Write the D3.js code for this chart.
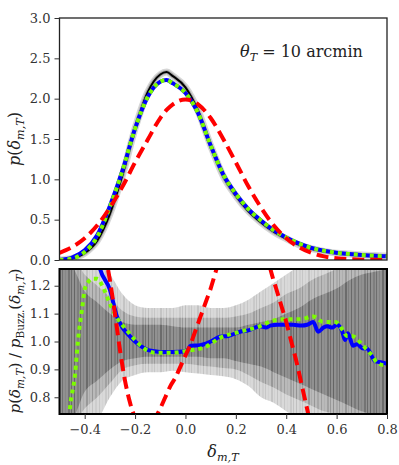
<!DOCTYPE html>
<html>
<head>
<meta charset="utf-8">
<script src="https://cdn.jsdelivr.net/npm/d3@7"></script>
<style>
body { margin: 0; background: #fff; }
svg text { font-family: "DejaVu Serif", "Liberation Serif", serif; fill: #222; }
</style>
</head>
<body>
<svg id="fig" width="399" height="465"></svg>
<script>
// ---- data ----
const topX = [-0.5, -0.45, -0.4, -0.35, -0.3, -0.25, -0.2, -0.15, -0.1, -0.075, -0.05, 0, 0.05, 0.1,
    0.15, 0.2, 0.25, 0.3, 0.35, 0.4, 0.45, 0.5, 0.55, 0.6, 0.65, 0.7, 0.75, 0.8];
const buzzardTop = [0.0, 0.02, 0.085, 0.24, 0.57, 1.05, 1.63, 2.08, 2.30, 2.33, 2.28, 2.14, 1.85, 1.42,
    1.04, 0.795, 0.605, 0.465, 0.35, 0.265, 0.19, 0.14, 0.107, 0.085, 0.073, 0.062, 0.055, 0.049];
const blueTop = [0.0, 0.03, 0.12, 0.31, 0.67, 1.11, 1.63, 2.02, 2.21, 2.23, 2.19, 2.07, 1.82, 1.42,
    1.06, 0.82, 0.63, 0.49, 0.37, 0.28, 0.205, 0.15, 0.115, 0.09, 0.075, 0.062, 0.052, 0.045];
const greenTop = [0.0, 0.016, 0.10, 0.29, 0.66, 1.11, 1.63, 2.02, 2.21, 2.23, 2.19, 2.07, 1.82, 1.42,
    1.06, 0.82, 0.63, 0.49, 0.37, 0.28, 0.205, 0.15, 0.115, 0.09, 0.075, 0.062, 0.052, 0.045];
const redTop = [0.088, 0.16, 0.27, 0.43, 0.65, 0.91, 1.21, 1.49, 1.76, 1.86, 1.93, 1.99, 1.93, 1.76,
    1.50, 1.21, 0.91, 0.65, 0.43, 0.27, 0.16, 0.088, 0.045, 0.022, 0.01, 0.004, 0.002, 0.001];

// spread of the Buzzard realisations in the ratio panel (outer, middle, inner envelopes)
const bandX = [-0.5, -0.45, -0.4, -0.35, -0.3, -0.25, -0.2, -0.15, -0.1, -0.05, 0, 0.05, 0.1, 0.15,
    0.2, 0.25, 0.3, 0.35, 0.4, 0.45, 0.5, 0.55, 0.6, 0.65, 0.7, 0.75, 0.8];
const outerLo = [0.70, 0.70, 0.70, 0.72, 0.80, 0.86, 0.88, 0.89, 0.89, 0.895, 0.89, 0.885, 0.88, 0.875,
    0.865, 0.84, 0.80, 0.78, 0.75, 0.72, 0.70, 0.70, 0.70, 0.70, 0.70, 0.70, 0.70];
const outerHi = [1.30, 1.30, 1.30, 1.28, 1.24, 1.17, 1.13, 1.12, 1.12, 1.12, 1.13, 1.13, 1.12, 1.12,
    1.13, 1.15, 1.18, 1.21, 1.24, 1.27, 1.30, 1.30, 1.30, 1.30, 1.30, 1.30, 1.30];
const midLo = [0.70, 0.70, 0.76, 0.80, 0.85, 0.90, 0.915, 0.92, 0.92, 0.92, 0.92, 0.915, 0.91, 0.905,
    0.90, 0.88, 0.855, 0.835, 0.81, 0.79, 0.77, 0.75, 0.74, 0.72, 0.70, 0.70, 0.70];
const midHi = [1.30, 1.30, 1.24, 1.20, 1.16, 1.11, 1.09, 1.085, 1.085, 1.085, 1.085, 1.085, 1.085, 1.085,
    1.09, 1.10, 1.12, 1.14, 1.17, 1.19, 1.22, 1.24, 1.26, 1.28, 1.30, 1.30, 1.30];
const innerLo = [0.70, 0.72, 0.82, 0.86, 0.90, 0.93, 0.94, 0.945, 0.945, 0.945, 0.945, 0.945, 0.94, 0.94,
    0.93, 0.92, 0.91, 0.89, 0.87, 0.85, 0.83, 0.81, 0.79, 0.77, 0.75, 0.74, 0.74];
const innerHi = [1.30, 1.27, 1.18, 1.14, 1.10, 1.07, 1.06, 1.06, 1.06, 1.055, 1.05, 1.05, 1.05, 1.05,
    1.05, 1.06, 1.07, 1.08, 1.10, 1.12, 1.15, 1.17, 1.19, 1.22, 1.24, 1.25, 1.26];

const blueRatioX = [-0.35, -0.339, -0.30, -0.272, -0.25, -0.232, -0.20, -0.18, -0.15, -0.129, -0.10, -0.05,
    0.0, 0.01, 0.02, 0.058, 0.10, 0.137, 0.17, 0.217, 0.25, 0.296, 0.32, 0.336, 0.367, 0.40, 0.427, 0.46,
    0.483, 0.507, 0.527, 0.548, 0.562, 0.582, 0.601, 0.621, 0.633, 0.645, 0.665, 0.681, 0.705, 0.72, 0.752,
    0.78, 0.80];
const blueRatio = [1.30, 1.26, 1.186, 1.09, 1.05, 1.03, 1.00, 0.985, 0.97, 0.966, 0.962, 0.962,
    0.965, 0.97, 0.985, 0.987, 1.00, 1.017, 1.02, 1.035, 1.04, 1.055, 1.05, 1.057, 1.06, 1.06, 1.06, 1.057,
    1.06, 1.07, 1.035, 1.05, 1.055, 1.05, 1.06, 1.04, 1.005, 1.03, 0.985, 0.99, 0.975, 0.975, 0.93,
    0.925, 0.92];

const greenRatioX = [-0.465, -0.458, -0.438, -0.427, -0.41, -0.399, -0.385, -0.37, -0.35, -0.33, -0.30,
    -0.268, -0.228, -0.20, -0.172, -0.12, -0.053, 0.01, 0.078, 0.137, 0.217, 0.296, 0.348, 0.403, 0.455,
    0.507, 0.546, 0.594, 0.625, 0.64, 0.66, 0.705, 0.74, 0.76, 0.79, 0.80];
const greenRatio = [0.70, 0.765, 0.885, 1.0, 1.12, 1.19, 1.215, 1.225, 1.225, 1.20, 1.135,
    1.08, 1.035, 1.005, 0.98, 0.96, 0.96, 0.967, 0.98, 1.013, 1.035, 1.055, 1.075, 1.08, 1.08,
    1.09, 1.07, 1.07, 1.04, 1.02, 1.02, 0.985, 0.95, 0.925, 0.915, 0.915];

const redRatioX = [-0.32, -0.30, -0.28, -0.26, -0.24, -0.22, -0.20, -0.18, -0.16, -0.14, -0.12, -0.10,
    -0.08, -0.06, -0.04, -0.02, 0, 0.02, 0.04, 0.06, 0.08, 0.10, 0.12, 0.14, 0.23, 0.32, 0.34, 0.36, 0.38,
    0.40, 0.42, 0.44, 0.46, 0.48, 0.50];
const redRatio = [1.32, 1.22, 1.10, 0.97, 0.86, 0.78, 0.725, 0.69, 0.68, 0.695, 0.725, 0.76,
    0.80, 0.84, 0.87, 0.91, 0.95, 0.99, 1.04, 1.09, 1.14, 1.19, 1.25, 1.31, null, 1.33, 1.25, 1.19, 1.13,
    1.07, 1.00, 0.93, 0.85, 0.77, 0.69];

const topTicks = [0, 0.5, 1.0, 1.5, 2.0, 2.5, 3.0];
const botTicks = [0.8, 0.9, 1.0, 1.1, 1.2];
const xTicks = [-0.4, -0.2, 0.0, 0.2, 0.4, 0.6, 0.8];

// ---- layout ----
const FONT = "'DejaVu Serif', 'Liberation Serif', serif";
const svg = d3.select("#fig");
const x = d3.scaleLinear().domain([-0.5, 0.8]).range([59.5, 387]);
const yTop = d3.scaleLinear().domain([0, 3]).range([260, 18]);
const yBot = d3.scaleLinear().domain([0.74, 1.26]).range([414, 269]);

const zip = (xs, ys) => xs.map((v, i) => [v, ys[i]]);

const defs = svg.append("defs");
defs.append("clipPath").attr("id", "clipTop").append("rect")
    .attr("x", x.range()[0]).attr("y", yTop.range()[1])
    .attr("width", x.range()[1] - x.range()[0]).attr("height", yTop.range()[0] - yTop.range()[1]);
defs.append("clipPath").attr("id", "clipBot").append("rect")
    .attr("x", x.range()[0]).attr("y", yBot.range()[1])
    .attr("width", x.range()[1] - x.range()[0]).attr("height", yBot.range()[0] - yBot.range()[1]);

// faint vertical streaks to hint at the many overplotted realisations
const pat = defs.append("pattern").attr("id", "streaks")
    .attr("patternUnits", "userSpaceOnUse").attr("width", 37).attr("height", 7);
[[0, 1, 0.14], [3, 2, 0.06], [6, 1, 0.11], [9, 1, 0.04], [12, 2, 0.12], [15, 1, 0.05],
 [18, 1, 0.13], [21, 2, 0.07], [25, 1, 0.10], [28, 1, 0.03], [31, 2, 0.09], [34, 1, 0.12]].forEach(s => {
    pat.append("rect").attr("x", s[0]).attr("y", 0).attr("width", s[1]).attr("height", 7)
        .attr("fill", "#000").attr("opacity", s[2]);
});

const line = (ys) => d3.line()
    .defined(d => d[1] !== null)
    .x(d => x(d[0])).y(d => ys(d[1]))
    .curve(d3.curveMonotoneX);

// ---- top panel ----
const gTop = svg.append("g").attr("clip-path", "url(#clipTop)");

gTop.append("path").datum(zip(topX, buzzardTop))
    .attr("d", line(yTop)).attr("fill", "none")
    .attr("stroke", "#bbb").attr("stroke-opacity", 0.6).attr("stroke-width", 7);
gTop.append("path").datum(zip(topX, buzzardTop))
    .attr("d", line(yTop)).attr("fill", "none")
    .attr("stroke", "#888").attr("stroke-opacity", 0.6).attr("stroke-width", 4);
gTop.append("path").datum(zip(topX, buzzardTop))
    .attr("d", line(yTop)).attr("fill", "none")
    .attr("stroke", "#000").attr("stroke-width", 2);
gTop.append("path").datum(zip(topX, blueTop))
    .attr("d", line(yTop)).attr("fill", "none")
    .attr("stroke", "#0000ff").attr("stroke-width", 4);
gTop.append("path").datum(zip(topX, greenTop))
    .attr("d", line(yTop)).attr("fill", "none")
    .attr("stroke", "#7cfc00").attr("stroke-width", 4).attr("stroke-dasharray", "4,4");
gTop.append("path").datum(zip(topX, redTop))
    .attr("d", line(yTop)).attr("fill", "none")
    .attr("stroke", "#ff0000").attr("stroke-width", 4).attr("stroke-dasharray", "12,6");

svg.append("rect")
    .attr("x", x.range()[0]).attr("y", yTop.range()[1])
    .attr("width", x.range()[1] - x.range()[0]).attr("height", yTop.range()[0] - yTop.range()[1])
    .attr("fill", "none").attr("stroke", "#222").attr("stroke-width", 1.3);

const axTop = svg.append("g")
    .attr("transform", `translate(${x.range()[0]},0)`)
    .call(d3.axisLeft(yTop).tickValues(topTicks).tickFormat(d3.format(".1f")).tickSize(5).tickPadding(4));
axTop.select(".domain").remove();

// ---- bottom panel ----
const gBot = svg.append("g").attr("clip-path", "url(#clipBot)");
const area = (lo, hi) => d3.area()
    .x((d, i) => x(bandX[i])).y0((d, i) => yBot(lo[i])).y1((d, i) => yBot(hi[i]))
    .curve(d3.curveMonotoneX);

[[outerLo, outerHi, 0.15], [midLo, midHi, 0.14], [innerLo, innerHi, 0.22]].forEach(b => {
    gBot.append("path").datum(bandX).attr("d", area(b[0], b[1]))
        .attr("fill", "#000").attr("fill-opacity", b[2]);
    gBot.append("path").datum(bandX).attr("d", area(b[0], b[1]))
        .attr("fill", "url(#streaks)").attr("opacity", 0.8);
});

gBot.append("path").datum(zip(blueRatioX, blueRatio))
    .attr("d", line(yBot)).attr("fill", "none")
    .attr("stroke", "#0000ff").attr("stroke-width", 4).attr("stroke-linejoin", "round");
gBot.append("path").datum(zip(greenRatioX, greenRatio))
    .attr("d", line(yBot)).attr("fill", "none")
    .attr("stroke", "#7cfc00").attr("stroke-width", 4).attr("stroke-dasharray", "4,4");
gBot.append("path").datum(zip(redRatioX, redRatio))
    .attr("d", line(yBot)).attr("fill", "none")
    .attr("stroke", "#ff0000").attr("stroke-width", 4).attr("stroke-dasharray", "12,6");

svg.append("rect")
    .attr("x", x.range()[0]).attr("y", yBot.range()[1])
    .attr("width", x.range()[1] - x.range()[0]).attr("height", yBot.range()[0] - yBot.range()[1])
    .attr("fill", "none").attr("stroke", "#000").attr("stroke-width", 2);

const axBotY = svg.append("g")
    .attr("transform", `translate(${x.range()[0]},0)`)
    .call(d3.axisLeft(yBot).tickValues(botTicks).tickFormat(d3.format(".1f")).tickSize(5).tickPadding(4));
axBotY.select(".domain").remove();

const axBotX = svg.append("g")
    .attr("transform", `translate(0,${yBot.range()[0]})`)
    .call(d3.axisBottom(x).tickValues(xTicks).tickFormat(d3.format(".1f")).tickSize(5).tickPadding(6));
axBotX.select(".domain").remove();

svg.selectAll("g").attr("font-family", null);
svg.selectAll(".tick text").attr("font-size", 13).style("fill", "#333").style("font-family", FONT);
svg.selectAll(".tick line").attr("stroke", "#333");

// ---- labels ----
// parts: [text, kind] kind: i = italic, r = roman, si = italic subscript, sr = roman subscript
const richText = function (sel, parts, size) {
    const t = sel.style("font-size", size + "px").style("font-family", FONT);
    let sub = false;
    parts.forEach(p => {
        const isSub = p[1][0] === "s";
        const ts = t.append("tspan").text(p[0])
            .style("font-style", p[1].endsWith("i") ? "italic" : "normal");
        if (isSub) ts.style("font-size", (size * 0.7) + "px");
        if (isSub && !sub) ts.attr("dy", size * 0.25);
        if (!isSub && sub) ts.attr("dy", -size * 0.25);
        sub = isSub;
    });
    return t;
};

richText(svg.append("text")
    .attr("transform", "translate(20,139) rotate(-90)")
    .attr("text-anchor", "middle"),
    [["p", "i"], ["(", "r"], ["δ", "i"], ["m,T", "si"], [")", "r"]], 16);

richText(svg.append("text")
    .attr("transform", "translate(20,341) rotate(-90)")
    .attr("text-anchor", "middle"),
    [["p", "i"], ["(", "r"], ["δ", "i"], ["m,T", "si"], [")", "r"], [" / ", "r"],
     ["p", "i"], ["Buzz.", "sr"], ["(", "r"], ["δ", "i"], ["m,T", "si"], [")", "r"]], 15);

richText(svg.append("text")
    .attr("x", 223).attr("y", 457)
    .attr("text-anchor", "middle"),
    [["δ", "i"], ["m,T", "si"]], 16);

richText(svg.append("text")
    .attr("x", 240).attr("y", 57),
    [["θ", "i"], ["T", "si"], [" = 10 arcmin", "r"]], 16);
</script>
</body>
</html>
